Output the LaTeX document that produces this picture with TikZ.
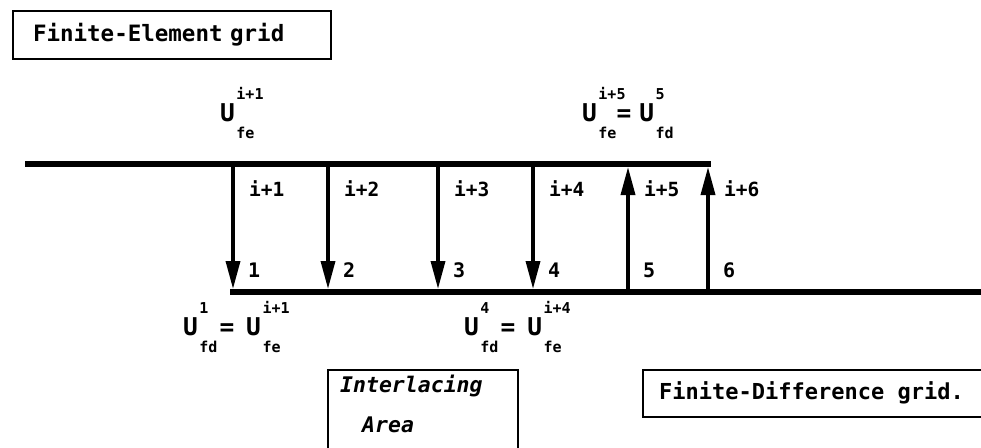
\documentclass[tikz,border=0pt]{standalone}
\usepackage{fontspec}
\setmainfont{DejaVu Sans Mono}
\usetikzlibrary{arrows.meta}
% field value U with stacked superscript (time level) and subscript (grid)
\newcommand\Uf[2]{U\kern1.5pt\rlap{\raisebox{0.88em}{\fontsize{15}{15}\selectfont#1}}\raisebox{-0.72em}{\fontsize{15}{15}\selectfont#2}}
\begin{document}
\begin{tikzpicture}[x=1pt,y=-1pt,
  gridline/.style={line width=6pt},
  link/.style={line width=3.5pt,shorten >=3pt,-{Triangle[length=28pt,width=14pt]}},
  frame/.style={line width=2pt},
  boxtext/.style={inner sep=0pt,anchor=west,font=\fontsize{22}{24}\selectfont\bfseries},
  areatext/.style={inner sep=0pt,anchor=west,font=\fontsize{21.5}{24}\bfseries\itshape},
  level/.style={inner sep=0pt,anchor=west,font=\fontsize{19.5}{20}\selectfont\bfseries},
  index/.style={inner sep=0pt,anchor=west,font=\fontsize{20}{20}\selectfont\bfseries},
  eq/.style={inner sep=0pt,anchor=base west,font=\fontsize{24.5}{25}\selectfont\bfseries}]
\useasboundingbox (0,0) rectangle (981,447);

% title box of the upper grid
\node[draw,frame,anchor=north west,text width=278pt,inner xsep=20pt,inner ysep=0pt,
      minimum height=48pt,align=left,font=\fontsize{22.5}{24}\selectfont\bfseries]
  (fetitle) at (12,10) {Finite-Element grid};

% end points of the two grid lines
\coordinate (feL) at (25,164);  \coordinate (feR) at (711,164);
\coordinate (fdL) at (230,292); \coordinate (fdR) at (981,292);

% nodes on both grids
\foreach \i/\x in {1/233,2/328,3/438,4/533,5/628,6/708}{
  \coordinate (t\i) at (\x,164);
  \coordinate (b\i) at (\x,292);
}

% transfer arrows: FE -> FD for 1..4, FD -> FE for 5,6
\foreach \i in {1,2,3,4}{ \draw[link] (t\i) -- (b\i); }
\foreach \i in {5,6}{ \draw[link] (b\i) -- (t\i); }

\draw[gridline] (feL) -- (feR);
\draw[gridline] (fdL) -- (fdR);

% time levels on the FE side, node numbers on the FD side
\foreach \i/\x in {1/233,2/328,3/438,4/533,5/628,6/708}{
  \node[level] (s\i) at (\x+16,189) {i+\i};
  \node[index] (n\i) at (\x+15,270) {\i};
}

% coupling relations
\node[eq] (e1) at (220,121) {\Uf{i+1}{fe}};
\node[eq] (e2) at (582,121) {\Uf{i+5}{fe}\hspace{0pt}=\hspace{8pt}\Uf{5}{fd}};
\node[eq] (e3) at (183,335) {\Uf{1}{fd}\hspace{2pt}=\hspace{12pt}\Uf{i+1}{fe}};
\node[eq] (e4) at (464,335) {\Uf{4}{fd}\hspace{2pt}=\hspace{12pt}\Uf{i+4}{fe}};

% interlacing area box (runs off the lower edge)
\draw[frame] (328,450) |- (518,370) -- (518,450);
\node[areatext] (ia1) at (340,386) {Interlacing};
\node[areatext] (ia2) at (362,425) {Area};

% title box of the lower grid (runs off the right edge)
\draw[frame] (984,370) -| (643,417) -- (984,417);
\node[boxtext] (fdtitle) at (659,393) {Finite-Difference grid.};
\end{tikzpicture}
\end{document}
